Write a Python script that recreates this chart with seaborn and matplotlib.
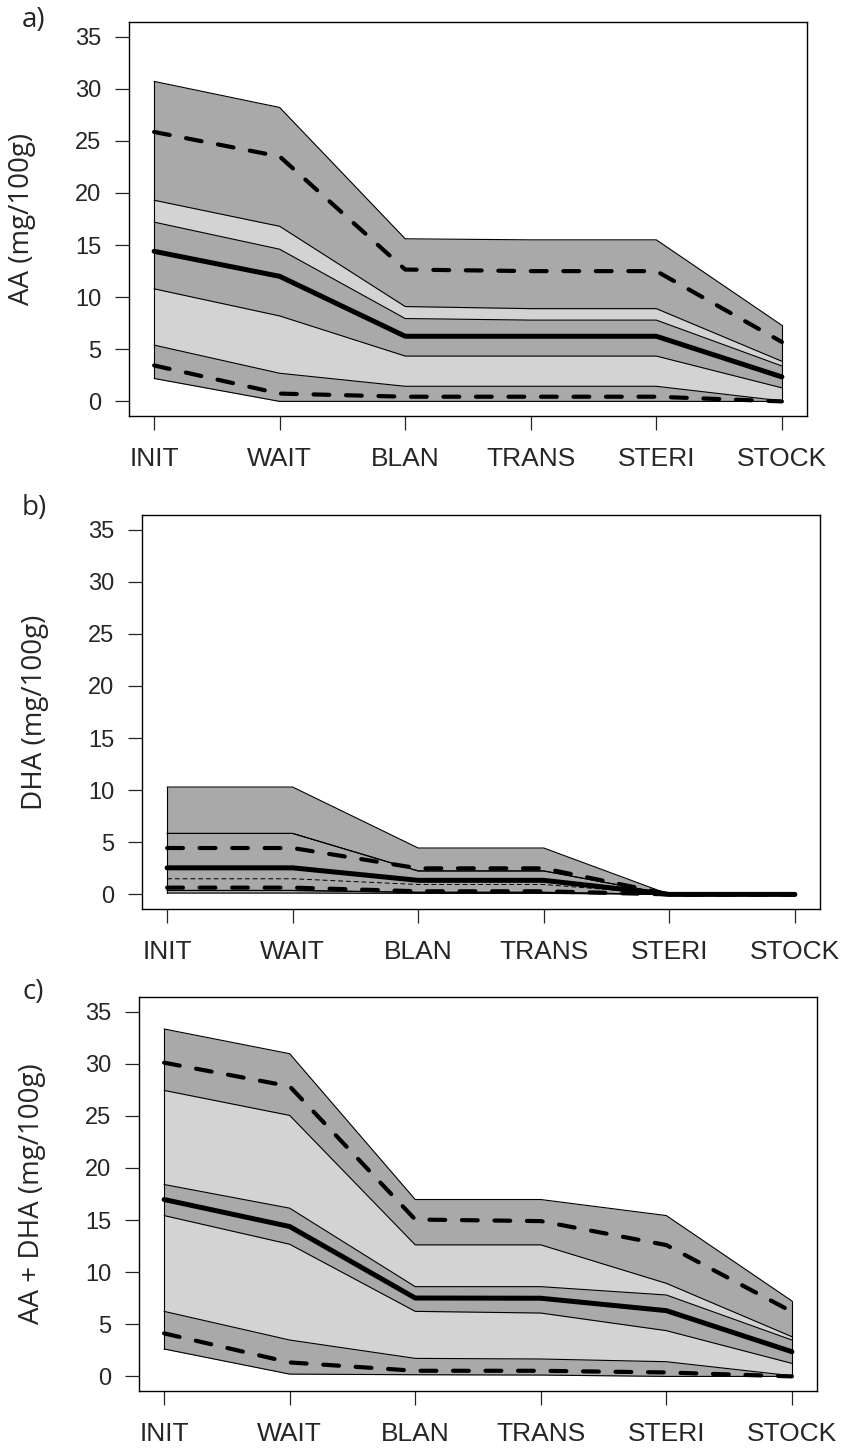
import numpy as np
import pandas as pd
import matplotlib
matplotlib.use("Agg")
import matplotlib.pyplot as plt
import seaborn as sns

# ── Data ──────────────────────────────────────────────────────────
steps = ["INIT", "WAIT", "BLAN", "TRANS", "STERI", "STOCK"]

# a) AA
a_max      = [30.7, 28.2, 15.6, 15.5, 15.5, 7.3]
a_upper    = [25.85, 23.5, 12.65, 12.5, 12.5, 5.7]
a_light_hi = [19.3, 16.8, 9.1, 8.9, 8.9, 3.85]
a_dark_hi  = [17.2, 14.6, 7.95, 7.8, 7.8, 3.4]
a_median   = [14.4, 12.0, 6.25, 6.25, 6.25, 2.35]
a_dark_lo  = [10.8, 8.2, 4.35, 4.35, 4.35, 1.3]
a_light_lo = [5.4, 2.7, 1.45, 1.45, 1.45, 0.05]
a_lower    = [3.45, 0.75, 0.45, 0.45, 0.45, 0.0]
a_min      = [2.2, 0.0, 0.0, 0.0, 0.0, 0.0]

# b) DHA
b_max      = [10.3, 10.3, 4.45, 4.45, 0.0, 0.0]
b_upper    = [4.45, 4.45, 2.5, 2.5, 0.0, 0.0]
b_light_hi = [5.85, 5.85, 2.25, 2.25, 0.0, 0.0]
b_dark_hi  = [5.85, 5.85, 2.25, 2.25, 0.0, 0.0]
b_median   = [2.55, 2.55, 1.35, 1.35, 0.0, 0.0]
b_extra    = [1.5, 1.5, 0.95, 0.95, 0.0, 0.0]
b_dark_lo  = [0.38, 0.38, 0.2, 0.2, 0.0, 0.0]
b_light_lo = [0.38, 0.38, 0.2, 0.2, 0.0, 0.0]
b_lower    = [0.65, 0.65, 0.3, 0.3, 0.0, 0.0]
b_min      = [0.13, 0.13, 0.1, 0.1, 0.0, 0.0]

# c) AA + DHA
c_max      = [33.33, 30.96, 16.97, 16.97, 15.43, 7.24]
c_upper    = [30.1, 27.83, 15.05, 14.9, 12.6, 6.21]
c_light_hi = [27.44, 25.04, 12.62, 12.62, 8.93, 3.81]
c_dark_hi  = [18.41, 16.14, 8.61, 8.61, 7.81, 3.49]
c_median   = [16.97, 14.38, 7.52, 7.5, 6.31, 2.37]
c_dark_lo  = [15.43, 12.68, 6.24, 6.08, 4.39, 1.25]
c_light_lo = [6.24, 3.49, 1.73, 1.67, 1.41, 0.06]
c_lower    = [4.13, 1.34, 0.54, 0.54, 0.38, 0.0]
c_min      = [2.63, 0.22, 0.16, 0.13, 0.0, 0.0]

panels = [
    dict(tag="a)", ylabel="AA (mg/100g)",
         mx=a_max, up=a_upper, lhi=a_light_hi, dhi=a_dark_hi, med=a_median,
         dlo=a_dark_lo, llo=a_light_lo, lo=a_lower, mn=a_min, extra=None),
    dict(tag="b)", ylabel="DHA (mg/100g)",
         mx=b_max, up=b_upper, lhi=b_light_hi, dhi=b_dark_hi, med=b_median,
         dlo=b_dark_lo, llo=b_light_lo, lo=b_lower, mn=b_min, extra=b_extra),
    dict(tag="c)", ylabel="AA + DHA (mg/100g)",
         mx=c_max, up=c_upper, lhi=c_light_hi, dhi=c_dark_hi, med=c_median,
         dlo=c_dark_lo, llo=c_light_lo, lo=c_lower, mn=c_min, extra=None),
]

# ── Layout (pixel boxes of the three panels) ──────────────────────
W, H = 846, 1449
boxes = [(129, 22, 807, 416), (142, 515, 820, 909), (139, 997, 817, 1391)]
tags_xy = [(22, 6), (22, 494), (22, 978)]

sns.set_style("white")
plt.rcParams['font.family'] = ['Liberation Sans', 'DejaVu Sans']
LABEL_FONT = ["Open Sans", "DejaVu Sans"]

DARK, LIGHT = "#A9A9A9", "#D3D3D3"
fig = plt.figure(figsize=(W / 100, H / 100), dpi=100)
fig.patch.set_facecolor("white")

xpos = np.arange(len(steps))

for p, (l, t, r, b), (tx, ty) in zip(panels, boxes, tags_xy):
    ax = fig.add_axes([l / W, 1 - b / H, (r - l) / W, (b - t) / H])

    # nested bands: full range, light band, dark inner band
    for lo, hi, col in [(p["mn"], p["mx"], DARK),
                        (p["llo"], p["lhi"], LIGHT),
                        (p["dlo"], p["dhi"], DARK)]:
        ax.fill_between(xpos, lo, hi, color=col, lw=0, zorder=1)
        for edge in (lo, hi):
            ax.plot(xpos, edge, color="black", lw=0.8, zorder=2)
    ax.plot([xpos[0], xpos[0]], [p["mn"][0], p["mx"][0]], color="black", lw=0.8, zorder=2)
    ax.plot([xpos[-1], xpos[-1]], [p["mn"][-1], p["mx"][-1]], color="black", lw=0.8, zorder=2)

    if p["extra"] is not None:
        sns.lineplot(x=xpos, y=p["extra"], ax=ax, color="black", lw=0.7,
                     linestyle=(0, (5, 3)), zorder=3)

    df = pd.DataFrame({"x": xpos, "med": p["med"], "up": p["up"], "lo": p["lo"]})
    for col in ("up", "lo"):
        ln = sns.lineplot(data=df, x="x", y=col, ax=ax, color="black", lw=3.0,
                          zorder=4)
        ln.lines[-1].set_dashes((3.8, 4.0))
        ln.lines[-1].set_dash_capstyle("round")
    sns.lineplot(data=df, x="x", y="med", ax=ax, color="black", lw=3.6,
                 zorder=5, solid_capstyle="round")

    ax.set_xlim(-0.2, 5.2)
    ax.set_ylim(-1.4, 36.4)
    ax.set_yticks(range(0, 36, 5))
    ax.set_xticks(xpos)
    ax.set_xticklabels(steps)
    ax.tick_params(axis="y", length=10, width=0.9, pad=10, labelsize=17,
                   direction="out", left=True)
    ax.tick_params(axis="x", length=10, width=0.9, pad=12, labelsize=19,
                   direction="out", bottom=True)
    for s in ax.spines.values():
        s.set_visible(True)
        s.set_linewidth(1.0)
        s.set_color("black")
    ax.set_xlabel("")
    ax.set_ylabel(p["ylabel"], fontsize=20, family=LABEL_FONT)
    ax.yaxis.set_label_coords(-93 / (r - l), 0.5)

    fig.text(tx / W, 1 - ty / H, p["tag"], ha="left", va="top",
             fontsize=20, family=LABEL_FONT)

fig.savefig("out.png", dpi=100, facecolor="white")
plt.close(fig)
